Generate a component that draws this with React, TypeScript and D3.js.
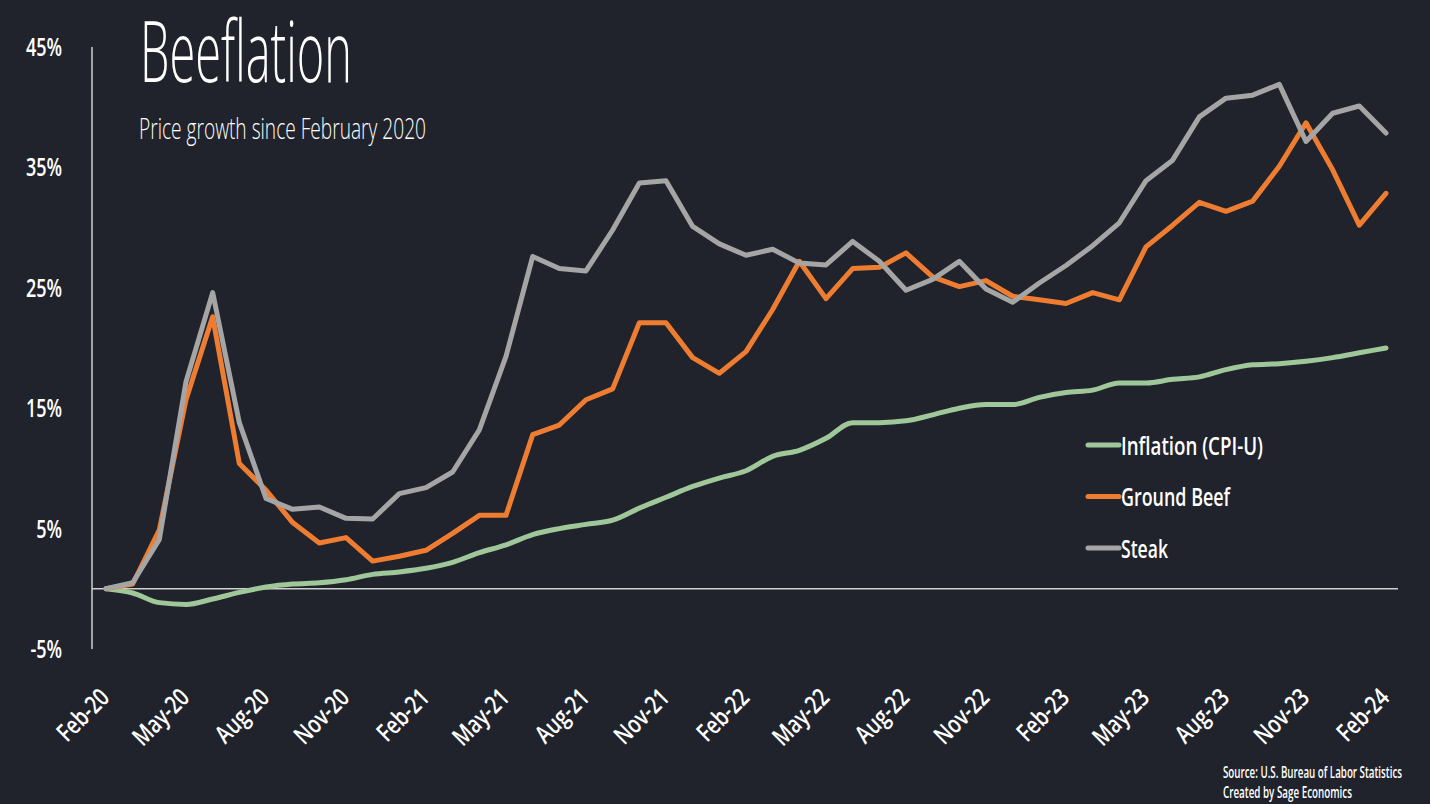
import * as d3 from "d3";

const W = 1430;
const H = 804;

const months = d3.range(0, 49).map((i) => {
  const names = ["Jan", "Feb", "Mar", "Apr", "May", "Jun", "Jul", "Aug", "Sep", "Oct", "Nov", "Dec"];
  const m = (1 + i) % 12;
  const yr = 20 + Math.floor((1 + i) / 12);
  return `${names[m]}-${yr}`;
});

const inflation = [
  0, -0.35, -1.15, -1.3, -0.85, -0.3, 0.15, 0.4, 0.5, 0.75, 1.2, 1.4, 1.7, 2.2, 3.0, 3.65,
  4.5, 5.0, 5.35, 5.7, 6.7, 7.6, 8.5, 9.2, 9.8, 11.0, 11.5, 12.5, 13.8, 13.8, 13.95, 14.45,
  15.0, 15.3, 15.3, 15.9, 16.3, 16.5, 17.1, 17.1, 17.4, 17.6, 18.2, 18.6, 18.7, 18.9, 19.2,
  19.6, 20.0,
];

const groundBeef = [
  0, 0.4, 4.9, 15.7, 22.6, 10.4, 8.2, 5.5, 3.8, 4.25, 2.3, 2.7, 3.2, 4.6, 6.1, 6.1, 12.8,
  13.6, 15.7, 16.6, 22.1, 22.1, 19.2, 17.9, 19.7, 23.2, 27.2, 24.1, 26.6, 26.7, 27.9, 25.9,
  25.1, 25.6, 24.3, 24.0, 23.7, 24.6, 24.0, 28.4, 30.2, 32.1, 31.35, 32.2, 35.1, 38.7, 34.8,
  30.2, 32.85,
];

const steak = [
  0, 0.5, 4.1, 17.2, 24.6, 13.8, 7.5, 6.6, 6.8, 5.85, 5.8, 7.9, 8.4, 9.7, 13.2, 19.3, 27.6,
  26.6, 26.4, 29.8, 33.7, 33.9, 30.1, 28.65, 27.7, 28.2, 27.05, 26.9, 28.85, 27.2, 24.8, 25.7,
  27.2, 24.9, 23.8, 25.4, 26.85, 28.5, 30.4, 33.9, 35.6, 39.2, 40.75, 41.0, 41.9, 37.15, 39.5,
  40.1, 37.85,
];

const yTicks = [-5, 5, 15, 25, 35, 45];

const series = [
  { name: "Inflation (CPI-U)", values: inflation, color: "#9fc799", smooth: true, legendW: 142 },
  { name: "Ground Beef", values: groundBeef, color: "#ee7d31", smooth: false, legendW: 109 },
  { name: "Steak", values: steak, color: "#a5a5a5", smooth: false, legendW: 47 },
];

const FONT = "'Open Sans', 'DejaVu Sans', sans-serif";

export default function App() {
  const x = d3.scaleLinear().domain([0, 48]).range([106, 1386]);
  const y = d3.scaleLinear().domain([-5, 45]).range([649, 47]);

  const line = (vals: number[], smooth: boolean) =>
    d3
      .line<number>()
      .x((_, i) => x(i))
      .y((d) => y(d))
      .curve(smooth ? d3.curveMonotoneX : d3.curveLinear)(vals) ?? "";

  const tickIdx = d3.range(0, 49, 3);

  return (
    <svg
      width={W}
      height={H}
      style={{ position: "absolute", left: 0, top: 0, background: "#20232b" }}
    >
      <rect width={W} height={H} fill="#20232b" />

      {/* title */}
      <text x={140} y={82} fill="#fff" fontFamily={FONT} fontWeight={300} fontSize={84}
        textLength={212} lengthAdjust="spacingAndGlyphs">
        Beeflation
      </text>
      <text x={139} y={139} fill="#fff" fontFamily={FONT} fontWeight={300} fontSize={29}
        textLength={287} lengthAdjust="spacingAndGlyphs">
        Price growth since February 2020
      </text>

      {/* axes */}
      <line x1={92} x2={92} y1={y(45)} y2={y(-5)} stroke="#d0d0d0" strokeWidth={1.5} />
      <line x1={92} x2={1398} y1={y(0)} y2={y(0)} stroke="#d0d0d0" strokeWidth={1.5} />

      {yTicks.map((t) => (
        <text key={t} transform={`translate(62,${y(t) + 9}) scale(0.72,1)`} textAnchor="end"
          fill="#fff" fontFamily={FONT} fontWeight={600} fontSize={25}>
          {`${t}%`}
        </text>
      ))}

      {tickIdx.map((i) => (
        <text key={i} transform={`translate(${x(i) + 5},699) rotate(-45) scale(0.78,1)`}
          textAnchor="end" fill="#fff" fontFamily={FONT} fontWeight={600} fontSize={25}>
          {months[i]}
        </text>
      ))}

      {/* series */}
      {series.map((s) => (
        <path key={s.name} d={line(s.values, s.smooth)} fill="none" stroke={s.color}
          strokeWidth={5} strokeLinejoin="round" strokeLinecap="round" />
      ))}

      {/* legend */}
      {series.map((s, i) => {
        const ly = 445 + i * 51.5;
        return (
          <g key={s.name}>
            <line x1={1088} x2={1119} y1={ly} y2={ly} stroke={s.color} strokeWidth={5}
              strokeLinecap="round" />
            <text x={1121} y={ly + 9.5} fill="#fff" fontFamily={FONT} fontWeight={600}
              fontSize={26} textLength={s.legendW} lengthAdjust="spacingAndGlyphs">
              {s.name}
            </text>
          </g>
        );
      })}

      {/* source */}
      <text x={1223} y={778} fill="#fff" fontFamily={FONT} fontWeight={600} fontSize={16}
        textLength={179} lengthAdjust="spacingAndGlyphs">
        Source: U.S. Bureau of Labor Statistics
      </text>
      <text x={1223} y={798} fill="#fff" fontFamily={FONT} fontWeight={600} fontSize={16}
        textLength={129} lengthAdjust="spacingAndGlyphs">
        Created by Sage Economics
      </text>
    </svg>
  );
}
